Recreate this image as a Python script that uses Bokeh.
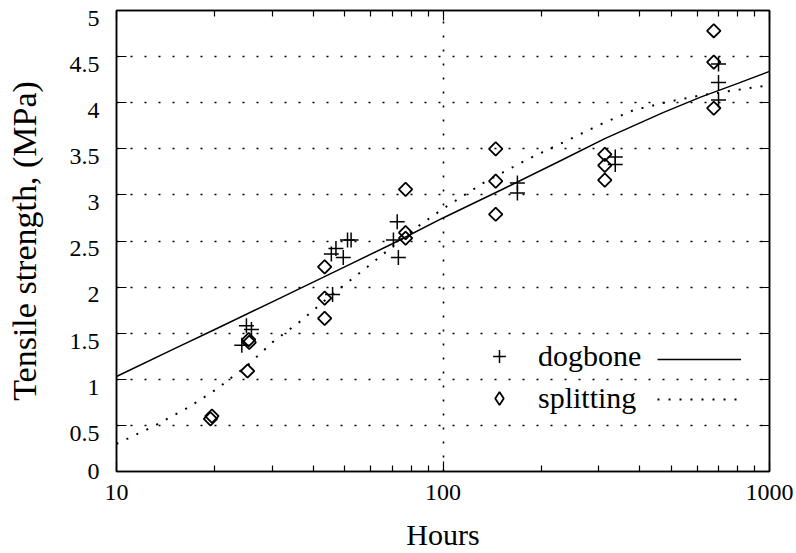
import numpy as np
from bokeh.plotting import figure
from bokeh.models import FixedTicker, LogAxis, LinearAxis, Legend, LegendItem, Range1d
from bokeh.embed import file_html
from bokeh.resources import INLINE

# ---- data ----
dog_hours = [24.2, 25.0, 25.9, 45.9, 45.5, 47.0, 49.5, 51.0, 52.3, 70.5, 72.4, 73.0,
             169, 169, 337, 337, 698, 698, 698]
dog_strength = [1.37, 1.58, 1.54, 1.92, 2.36, 2.42, 2.32, 2.51, 2.51, 2.51, 2.71, 2.32,
                3.13, 3.02, 3.41, 3.33, 4.42, 4.22, 4.03]

split_hours = [19.4, 19.6, 25.2, 25.5, 25.4, 43.4, 43.4, 43.4, 76.8, 76.8, 76.8,
               145, 145, 145, 313, 313, 313, 675, 675, 675]
split_strength = [0.57, 0.60, 1.09, 1.40, 1.43, 2.22, 1.88, 1.66, 3.06, 2.59, 2.53,
                  3.50, 3.15, 2.79, 3.44, 3.32, 3.16, 4.78, 4.44, 3.94]

fit_dog_hours = [10, 15, 20, 30, 50, 70, 100, 150, 229, 313, 470, 615, 800, 1000]
fit_dog = [1.03, 1.33, 1.54, 1.84, 2.22, 2.47, 2.75, 3.05, 3.37, 3.61, 3.89, 4.06, 4.21, 4.34]

fit_split_hours = [10, 13, 16.5, 20.4, 22.7, 25, 30, 36.6, 45, 58.7, 81, 100, 133, 180, 240,
                   310, 384, 490, 617, 800, 1000]
fit_split = [0.30, 0.49, 0.69, 0.90, 1.03, 1.14, 1.40, 1.63, 1.90, 2.22, 2.62, 2.85, 3.13,
             3.38, 3.59, 3.78, 3.92, 4.01, 4.08, 4.14, 4.19]

x_ticks = [10, 100, 1000]
x_tick_labels = ["10", "100", "1000"]
x_minor = [20, 30, 40, 50, 60, 70, 80, 90, 200, 300, 400, 500, 600, 700, 800, 900]
y_ticks = [0, 0.5, 1, 1.5, 2, 2.5, 3, 3.5, 4, 4.5, 5]
y_tick_labels = ["0", "0.5", "1", "1.5", "2", "2.5", "3", "3.5", "4", "4.5", "5"]
y_grid = [0.5, 1, 1.5, 2, 2.5, 3, 3.5, 4, 4.5]
x_grid = [100]

FONT = "Liberation Serif"
Y0, Y1 = 0, 5
LABEL_DROP = 0.085   # the original's y numbers sit slightly below their ticks (data units)

p = figure(width=796, height=553, x_axis_type="log",
           x_range=Range1d(10, 1000), y_range=Range1d(Y0, Y1),
           output_backend="svg", toolbar_location=None,
           min_border_left=116, min_border_right=27, min_border_top=10, min_border_bottom=81)
p.extra_y_ranges = {"ylab": Range1d(Y0 + LABEL_DROP, Y1 + LABEL_DROP)}

p.background_fill_color = "white"
p.border_fill_color = "white"
p.outline_line_color = "black"
p.outline_line_width = 1.5


def style_axis(ax, labels=True):
    ax.axis_line_color = "black"
    ax.axis_line_width = 1.5
    ax.major_tick_line_color = "black"
    ax.major_tick_line_width = 1.2
    ax.minor_tick_line_color = "black"
    ax.minor_tick_line_width = 1.2
    ax.major_tick_in = 10
    ax.major_tick_out = 0
    ax.minor_tick_in = 6
    ax.minor_tick_out = 0
    ax.major_label_text_font = FONT
    if not labels:
        ax.major_label_text_font_size = "1px"
        ax.major_label_text_alpha = 0
        ax.major_label_standoff = 0
    else:
        ax.major_label_text_font_size = "24px"
        ax.major_label_text_color = "black"
    ax.axis_label_text_font = FONT
    ax.axis_label_text_font_style = "normal"
    ax.axis_label_text_color = "black"


p.xaxis.ticker = FixedTicker(ticks=x_ticks, minor_ticks=x_minor)
p.xaxis.major_label_overrides = {t: s for t, s in zip(x_ticks, x_tick_labels)}
style_axis(p.xaxis[0])
p.xaxis.major_label_standoff = 13
p.xaxis.axis_label = "Hours"
p.xaxis.axis_label_text_font_size = "30px"
p.xaxis.axis_label_standoff = 15

# inner left axis: line and inward ticks only
p.yaxis.ticker = FixedTicker(ticks=y_ticks)
style_axis(p.yaxis[0], labels=False)
p.yaxis.major_label_overrides = {t: " " for t in y_ticks}

# outer left axis: the numbers (set slightly below each tick, as in the original) and the title
lab_start = p.extra_y_ranges["ylab"].start
lab_ticks = [max(t, lab_start) for t in y_ticks]
ylab = LinearAxis(y_range_name="ylab", ticker=FixedTicker(ticks=lab_ticks))
style_axis(ylab)
ylab.axis_line_color = None
ylab.major_tick_line_color = None
ylab.minor_tick_line_color = None
ylab.major_label_overrides = {t: s for t, s in zip(lab_ticks, y_tick_labels)}
ylab.major_label_standoff = 17
ylab.axis_label = "Tensile strength, (MPa)"
ylab.axis_label_text_font_size = "34px"
ylab.axis_label_standoff = 24
p.add_layout(ylab, "left")

top = LogAxis(ticker=FixedTicker(ticks=x_ticks, minor_ticks=x_minor))
style_axis(top, labels=False)
p.add_layout(top, "above")
right = LinearAxis(ticker=FixedTicker(ticks=y_ticks))
style_axis(right, labels=False)
p.add_layout(right, "right")

p.ygrid.ticker = FixedTicker(ticks=y_grid)
p.ygrid.grid_line_color = "black"
p.ygrid.grid_line_width = 1.6
p.ygrid.grid_line_dash = "2 12"
p.xgrid.ticker = FixedTicker(ticks=x_grid)
p.xgrid.grid_line_color = "black"
p.xgrid.grid_line_width = 1.6
p.xgrid.grid_line_dash = "2 12"

l1 = p.line(fit_dog_hours, fit_dog, line_color="black", line_width=1.5)
l2 = p.line(fit_split_hours, fit_split, line_color="black", line_width=2, line_dash="2 9")
dog = p.scatter(dog_hours, dog_strength, marker="cross", size=15,
                line_color="black", line_width=1.5)
split = p.scatter(split_hours, split_strength, marker="square", angle=np.pi / 4, size=9.5,
                  fill_color=None, line_color="black", line_width=1.8)
# hidden twin used only as the legend key (legend keys do not rotate markers)
split_key = p.scatter(split_hours, split_strength, marker="diamond", fill_color=None,
                      line_color="black", line_width=1.8, visible=False)

leg_common = dict(glyph_width=32, glyph_height=32, padding=0, margin=0, spacing=8,
                  background_fill_alpha=0, border_line_color=None,
                  label_text_font=FONT, label_text_font_size="30px", label_text_color="black")

leg1 = Legend(items=[LegendItem(label="dogbone", renderers=[dog]),
                     LegendItem(label="splitting", renderers=[split_key])],
              location=(367, 56), label_standoff=23, **leg_common)
p.add_layout(leg1)

leg_common2 = dict(leg_common)
leg_common2["glyph_width"] = 84
leg2 = Legend(items=[LegendItem(label=" ", renderers=[l1]),
                     LegendItem(label=" ", renderers=[l2])],
              location=(541, 56), label_standoff=0, **leg_common2)
p.add_layout(leg2)

open("out.html", "w").write(file_html(p, INLINE))
